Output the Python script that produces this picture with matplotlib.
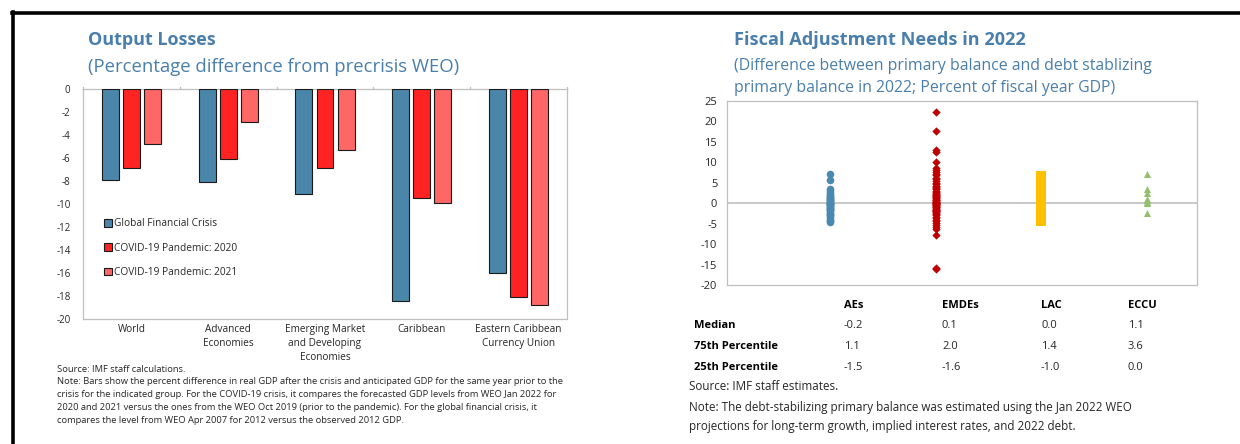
import matplotlib
matplotlib.use("Agg")
import matplotlib.pyplot as plt
import numpy as np
from matplotlib.lines import Line2D

plt.rcParams["font.family"] = ["Open Sans", "DejaVu Sans"]

W, H = 1240, 444
TITLE_BLUE = "#4A7FAB"
GRID_GREY = "#BFBFBF"
TEXT = "#262626"

# ---- left panel: output losses ----
groups = ["World", "Advanced\nEconomies", "Emerging Market\nand Developing\nEconomies",
          "Caribbean", "Eastern Caribbean\nCurrency Union"]
series_names = ["Global Financial Crisis", "COVID-19 Pandemic: 2020", "COVID-19 Pandemic: 2021"]
gfc = [-7.9, -8.1, -9.1, -18.4, -16.0]
covid_2020 = [-6.9, -6.1, -6.9, -9.5, -18.1]
covid_2021 = [-4.8, -2.9, -5.3, -9.9, -18.8]
bar_colors = ["#4A86AA", "#FF2323", "#FF6666"]

# ---- right panel: fiscal adjustment needs ----
scatter_groups = ["AEs", "EMDEs", "LAC", "ECCU"]
aes = [7.2, 5.7, 3.6, 3.1, 2.5, 2.1, 1.8, 1.5, 1.2, 1.1, 0.9, 0.7, 0.5, 0.3, 0.1,
       0.0, -0.1, -0.2, -0.3, -0.5, -0.7, -0.9, -1.1, -1.3, -1.5, -1.7, -2.0,
       -2.3, -2.6, -2.9, -3.2, -3.6, -4.0, -4.3, -4.6]
emdes = [22.2, 17.7, 13.0, 12.6, 10.1, 8.6, 8.2, 7.7, 7.2, 6.8, 6.2, 5.9, 5.4,
         5.0, 4.6, 4.3, 4.0, 3.7, 3.4, 3.1, 2.8, 2.5, 2.3, 2.1, 2.0, 1.8, 1.6,
         1.4, 1.2, 1.0, 0.9, 0.7, 0.5, 0.4, 0.2, 0.1, 0.1, 0.0, -0.1, -0.2,
         -0.4, -0.5, -0.7, -0.9, -1.0, -1.2, -1.4, -1.6, -1.6, -1.8, -2.0,
         -2.2, -2.4, -2.7, -3.0, -3.3, -3.6, -4.0, -4.4, -4.8, -5.3, -5.8,
         -6.3, -7.8, -15.8, -16.0]
lac = [6.7, 6.0, 5.1, 4.2, 3.6, 2.9, 2.4, 2.0, 1.7, 1.4, 1.2, 0.9, 0.7, 0.5,
       0.3, 0.1, 0.0, -0.1, -0.3, -0.5, -0.7, -0.9, -1.0, -1.3, -1.7, -2.2,
       -2.8, -3.4, -3.9, -4.3]
eccu = [7.1, 3.6, 2.4, 1.1, 0.8, 0.3, 0.0, -2.4]

table_rows = ["Median", "75th Percentile", "25th Percentile"]
median_vals = ["-0.2", "0.1", "0.0", "1.1"]
p75_vals = ["1.1", "2.0", "1.4", "3.6"]
p25_vals = ["-1.5", "-1.6", "-1.0", "0.0"]


def fx(px):
    return px / W


def fy(py):
    return 1 - py / H


fig = plt.figure(figsize=(W / 100, H / 100), dpi=100)

# outer frame (top and left rule)
fig.add_artist(Line2D([fx(12), 1.0], [fy(13), fy(13)], color="black", lw=2.6))
fig.add_artist(Line2D([fx(13), fx(13)], [fy(12), 0.0], color="black", lw=2.6))

# ---------------- left: bars ----------------
ax1 = fig.add_axes([fx(83), fy(319), fx(567) - fx(83), fy(89) - fy(319)])
x = np.arange(len(groups))
width = 0.175
pitch = 0.218
for k, (vals, name, col) in enumerate(zip([gfc, covid_2020, covid_2021], series_names, bar_colors)):
    ax1.bar(x + (k - 1) * pitch, vals, width, color=col, edgecolor="#1a1a1a",
            linewidth=0.8, label=name, zorder=3)
ax1.set_xlim(-0.5, len(groups) - 0.5)
ax1.set_ylim(-20, 0)
ax1.set_yticks(np.arange(-20, 1, 2))
ax1.set_yticklabels([f"{v}" for v in range(-20, 1, 2)], fontsize=7, color=TEXT)
ax1.tick_params(axis="y", length=0, pad=9)
ax1.set_xticks([])
for s in ax1.spines.values():
    s.set_color(GRID_GREY)
    s.set_linewidth(0.9)
# boundary ticks on the zero line
for b in np.arange(-0.5, len(groups), 1.0):
    ax1.plot([b, b], [0, 0.18], color=GRID_GREY, lw=0.9, clip_on=False)
for xi, lab in zip(x, groups):
    ax1.text(xi, -20.45, lab, ha="center", va="top", fontsize=7.2,
             color=TEXT, linespacing=1.35)
leg = ax1.legend(loc="upper left", bbox_to_anchor=(0.035, 0.455), frameon=False,
                 fontsize=7.3, handlelength=0.75, handleheight=0.75,
                 handletextpad=0.25, labelspacing=1.3, borderaxespad=0)
for t in leg.get_texts():
    t.set_color(TEXT)

fig.text(fx(88), fy(40), "Output Losses", fontsize=13, fontweight="bold",
         color=TITLE_BLUE, va="center")
fig.text(fx(88), fy(67), "(Percentage difference from precrisis WEO)", fontsize=13.3,
         color=TITLE_BLUE, va="center")

left_notes = [
    "Source: IMF staff calculations.",
    "Note: Bars show the percent difference in real GDP after the crisis and anticipated GDP for the same year prior to the",
    "crisis for the indicated group. For the COVID-19 crisis, it compares the forecasted GDP levels from WEO Jan 2022 for",
    "2020 and 2021 versus the ones from the WEO Oct 2019 (prior to the pandemic). For the global financial crisis, it",
    "compares the level from WEO Apr 2007 for 2012 versus the observed 2012 GDP.",
]
for i, line in enumerate(left_notes):
    fig.text(fx(57), fy(369 + 12.8 * i), line, fontsize=6.72, color=TEXT, va="center")

# ---------------- right: scatter ----------------
ax2 = fig.add_axes([fx(727), fy(285), fx(1197) - fx(727), fy(101) - fy(285)])
ax2.axhline(0, color=GRID_GREY, lw=1.2, zorder=1)
ax2.scatter(np.full(len(aes), 1.0), aes, s=30, marker="o", color="#4A8AB0",
            linewidths=0, zorder=3)
ax2.scatter(np.full(len(emdes), 2.0), emdes, s=18, marker="D", color="#C00000",
            linewidths=0, zorder=3)
ax2.scatter(np.full(len(lac), 3.0), lac, s=44, marker="s", color="#FFC000",
            linewidths=0, zorder=3)
ax2.scatter(np.full(len(eccu), 4.0), eccu, s=26, marker="^", color="#93BF6E",
            linewidths=0, zorder=3)
ax2.set_xlim(0.03, 4.47)
ax2.set_ylim(-20, 25)
ax2.set_yticks(np.arange(-20, 26, 5))
ax2.set_yticklabels([f"{v}" for v in range(-20, 26, 5)], fontsize=8, color=TEXT)
ax2.tick_params(axis="y", length=0, pad=7)
ax2.set_xticks([])
for s in ax2.spines.values():
    s.set_color(GRID_GREY)
    s.set_linewidth(0.9)

fig.text(fx(734), fy(40), "Fiscal Adjustment Needs in 2022", fontsize=13.1,
         fontweight="bold", color=TITLE_BLUE, va="center")
fig.text(fx(734), fy(66), "(Difference between primary balance and debt stablizing",
         fontsize=11.4, color=TITLE_BLUE, va="center")
fig.text(fx(734), fy(88), "primary balance in 2022; Percent of fiscal year GDP)",
         fontsize=11.4, color=TITLE_BLUE, va="center")

# summary table under the scatter
col_x = [fx(844), fx(942), fx(1041), fx(1128)]
for cx, name in zip(col_x, scatter_groups):
    fig.text(cx, fy(305), name, fontsize=8, fontweight="bold", color="black", va="center")
for r, (row_name, vals) in enumerate(zip(table_rows, [median_vals, p75_vals, p25_vals])):
    y = fy(325 + 21 * r)
    fig.text(fx(694), y, row_name, fontsize=8, fontweight="bold", color="black", va="center")
    for cx, v in zip(col_x, vals):
        fig.text(cx, y, v, fontsize=8, color=TEXT, va="center")

fig.text(fx(689), fy(386), "Source: IMF staff estimates.", fontsize=8.4, color=TEXT, va="center")
fig.text(fx(689), fy(407),
         "Note: The debt-stabilizing primary balance was estimated using the Jan 2022 WEO",
         fontsize=8.4, color=TEXT, va="center")
fig.text(fx(689), fy(426),
         "projections for long-term growth, implied interest rates, and 2022 debt.",
         fontsize=8.4, color=TEXT, va="center")

fig.savefig("out.png", dpi=100, facecolor="white")
